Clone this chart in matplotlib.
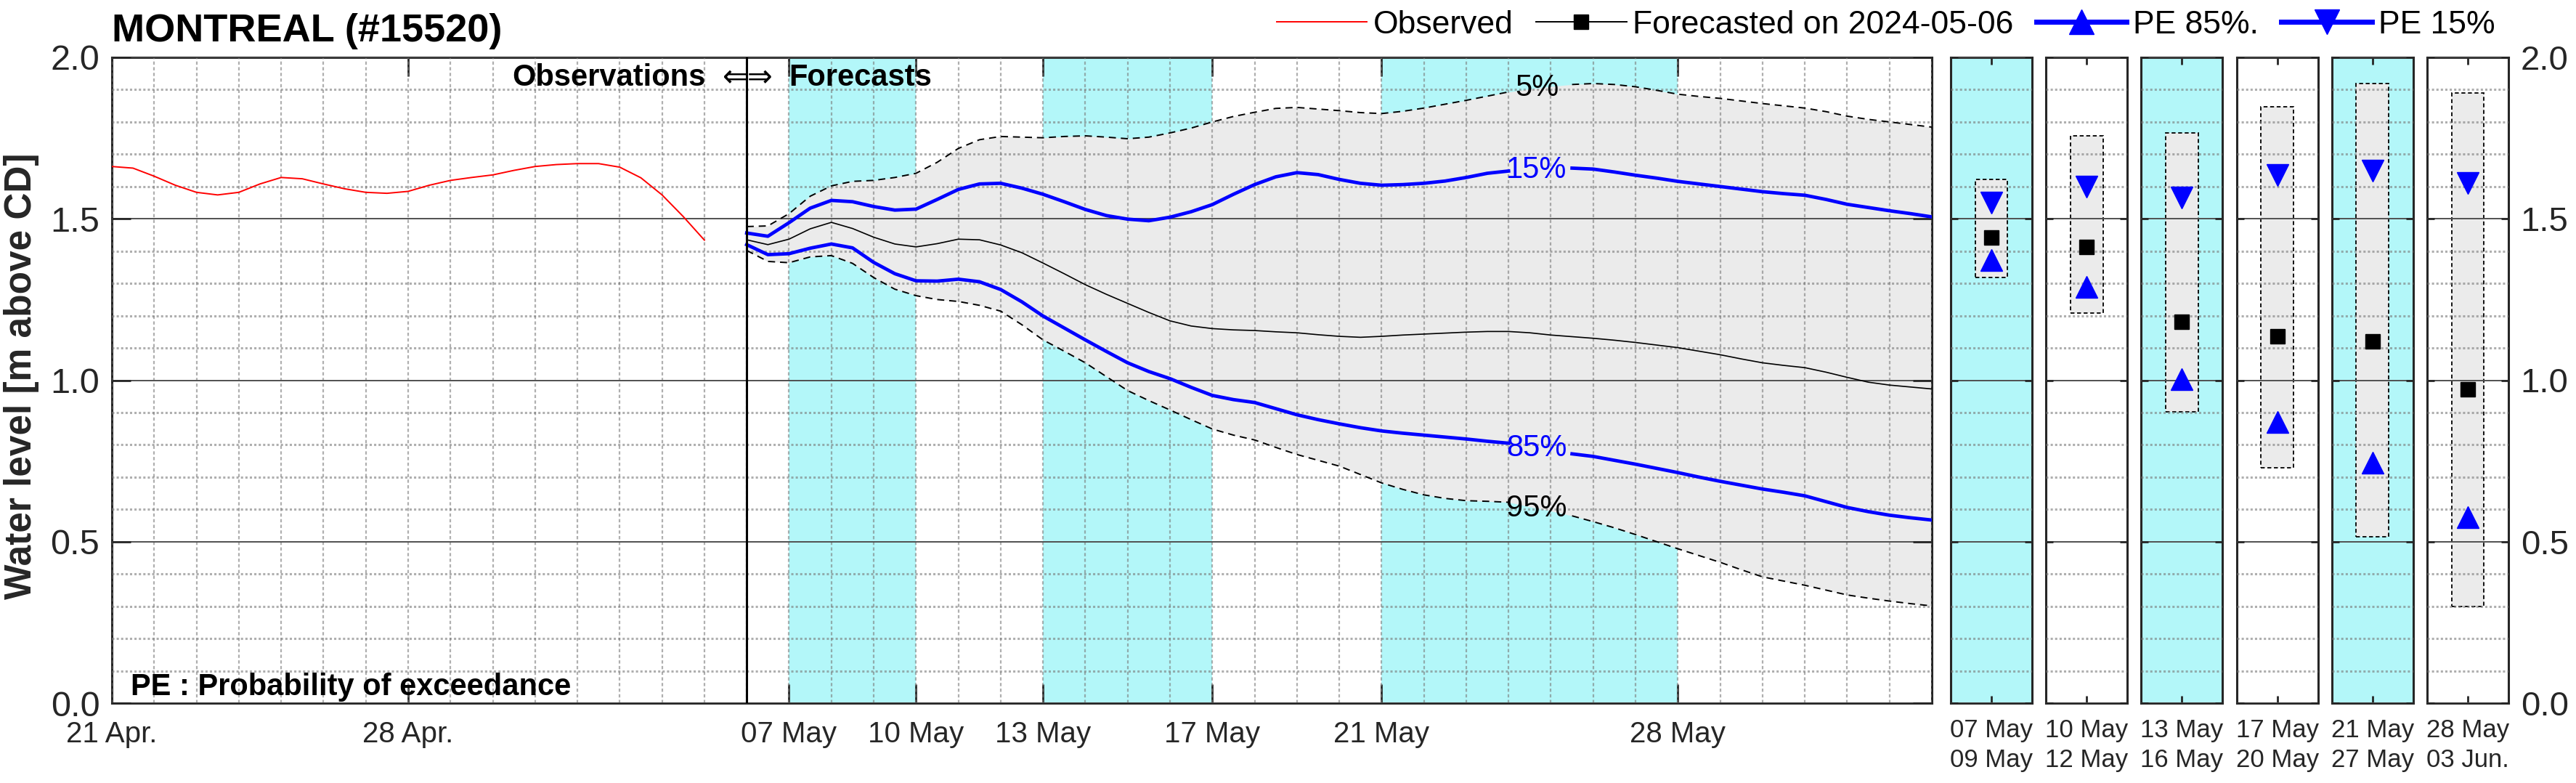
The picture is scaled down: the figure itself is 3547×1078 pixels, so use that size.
import matplotlib.dates as mdates
import matplotlib.pyplot as plt
import numpy as np
import pandas as pd
from matplotlib.lines import Line2D
from matplotlib.ticker import FixedLocator, MultipleLocator

plt.rcParams["font.family"] = ["Liberation Sans", "DejaVu Sans"]

# observed water level, every 12 h from 21 Apr to 05 May
obs_time = pd.date_range("2024-04-21", "2024-05-05", freq="12h")
obs_level = [
    1.662, 1.657, 1.632, 1.604, 1.582, 1.574, 1.582, 1.608, 1.628, 1.624,
    1.608, 1.593, 1.582, 1.579, 1.585, 1.604, 1.619, 1.628, 1.636, 1.650,
    1.662, 1.668, 1.671, 1.671, 1.660, 1.627, 1.574, 1.507, 1.434,
]

# forecast issued 2024-05-06, every 12 h to 03 Jun
fc_time = pd.date_range("2024-05-06", "2024-06-03", freq="12h")
pe5 = [
    1.476, 1.478, 1.516, 1.570, 1.602, 1.616, 1.619, 1.628, 1.641, 1.675,
    1.718, 1.745, 1.755, 1.753, 1.751, 1.755, 1.757, 1.753, 1.748, 1.753,
    1.766, 1.781, 1.800, 1.817, 1.830, 1.842, 1.845, 1.840, 1.835, 1.829,
    1.826, 1.833, 1.843, 1.855, 1.867, 1.880, 1.893, 1.902, 1.910, 1.916,
    1.919, 1.916, 1.909, 1.898, 1.886, 1.879, 1.873, 1.865, 1.857, 1.850,
    1.843, 1.832, 1.818, 1.808, 1.800, 1.792, 1.784,
]
pe15 = [
    1.456, 1.446, 1.488, 1.533, 1.557, 1.553, 1.538, 1.527, 1.530, 1.560,
    1.591, 1.608, 1.610, 1.595, 1.576, 1.553, 1.529, 1.510, 1.499, 1.494,
    1.505, 1.522, 1.544, 1.576, 1.606, 1.630, 1.643, 1.637, 1.622, 1.610,
    1.604, 1.606, 1.610, 1.617, 1.628, 1.641, 1.648, 1.651, 1.654, 1.657,
    1.654, 1.645, 1.635, 1.626, 1.616, 1.608, 1.600, 1.592, 1.584, 1.578,
    1.573, 1.560, 1.545, 1.535, 1.525, 1.516, 1.506,
]
median = [
    1.435, 1.420, 1.437, 1.469, 1.489, 1.470, 1.443, 1.422, 1.413, 1.423,
    1.437, 1.435, 1.419, 1.395, 1.363, 1.330, 1.296, 1.266, 1.238, 1.210,
    1.184, 1.168, 1.160, 1.156, 1.154, 1.150, 1.147, 1.141, 1.136, 1.133,
    1.136, 1.140, 1.143, 1.146, 1.149, 1.151, 1.151, 1.147, 1.140, 1.135,
    1.130, 1.124, 1.117, 1.109, 1.101, 1.090, 1.079, 1.066, 1.054, 1.046,
    1.039, 1.025, 1.009, 0.994, 0.985, 0.979, 0.973,
]
pe85 = [
    1.420, 1.389, 1.392, 1.409, 1.422, 1.410, 1.365, 1.330, 1.308, 1.307,
    1.313, 1.305, 1.281, 1.243, 1.199, 1.162, 1.125, 1.089, 1.054, 1.027,
    1.005, 0.978, 0.953, 0.940, 0.931, 0.912, 0.893, 0.878, 0.865, 0.853,
    0.843, 0.836, 0.830, 0.824, 0.818, 0.811, 0.805, 0.795, 0.782, 0.772,
    0.764, 0.752, 0.740, 0.727, 0.714, 0.700, 0.687, 0.675, 0.663, 0.653,
    0.642, 0.624, 0.606, 0.593, 0.582, 0.574, 0.567,
]
pe95 = [
    1.402, 1.368, 1.364, 1.382, 1.386, 1.362, 1.318, 1.282, 1.262, 1.250,
    1.244, 1.232, 1.214, 1.172, 1.125, 1.090, 1.054, 1.011, 0.968, 0.937,
    0.908, 0.878, 0.849, 0.830, 0.815, 0.792, 0.770, 0.752, 0.734, 0.708,
    0.682, 0.662, 0.645, 0.634, 0.627, 0.625, 0.622, 0.608, 0.595, 0.580,
    0.562, 0.543, 0.522, 0.500, 0.478, 0.457, 0.436, 0.413, 0.391, 0.378,
    0.365, 0.350, 0.335, 0.325, 0.316, 0.308, 0.301,
]

# period summaries (right-hand panels)
panel_labels = ["07 May\n09 May", "10 May\n12 May", "13 May\n16 May",
                "17 May\n20 May", "21 May\n27 May", "28 May\n03 Jun."]
panel_shaded = [True, False, True, False, True, False]
panel_p5 = [1.621, 1.756, 1.765, 1.847, 1.920, 1.889]
panel_p15 = [1.550, 1.599, 1.565, 1.635, 1.650, 1.610]
panel_med = [1.442, 1.413, 1.182, 1.136, 1.120, 0.971]
panel_p85 = [1.372, 1.289, 1.004, 0.871, 0.745, 0.577]
panel_p95 = [1.318, 1.209, 0.902, 0.730, 0.515, 0.299]

band_start = ["2024-05-07", "2024-05-13", "2024-05-21"]
band_end = ["2024-05-10", "2024-05-17", "2024-05-28"]

tick_dates = ["2024-04-21", "2024-04-28", "2024-05-07", "2024-05-10",
              "2024-05-13", "2024-05-17", "2024-05-21", "2024-05-28"]
tick_labels = ["21 Apr.", "28 Apr.", "07 May", "10 May",
               "13 May", "17 May", "21 May", "28 May"]

issue_date = pd.Timestamp("2024-05-06")
label_time = pd.Timestamp("2024-05-24 16:00")

CYAN = "#b3f7f9"
FILL = "#ebebeb"
DARK = "#262626"

W, H = 3547, 1078
fig = plt.figure(figsize=(W / 100, H / 100), dpi=100)


def px_axes(x0, x1, y0, y1):
    return fig.add_axes([x0 / W, 1 - y1 / H, (x1 - x0) / W, (y1 - y0) / H])


def style_grid(a):
    a.set_axisbelow(False)
    a.set_ylim(0, 2)
    a.yaxis.set_major_locator(MultipleLocator(0.5))
    a.yaxis.set_minor_locator(MultipleLocator(0.1))
    a.grid(True, axis="y", which="major", color="#505050", linewidth=1.4)
    a.grid(True, axis="y", which="minor", color="#7a7a7a", alpha=0.6,
           linewidth=2.2, linestyle=(0, (1, 1)))
    a.tick_params(which="minor", length=0)
    for s in a.spines.values():
        s.set_color(DARK)
        s.set_linewidth(2.2)


# ---- main time series axes
ax = px_axes(154, 2660, 79, 968)
style_grid(ax)
ax.set_xlim(pd.Timestamp("2024-04-21"), pd.Timestamp("2024-06-03"))

ax.xaxis.remove_overlapping_locs = False
ax.xaxis.set_major_locator(FixedLocator(mdates.date2num(pd.to_datetime(tick_dates))))
ax.set_xticklabels(tick_labels)
ax.xaxis.set_minor_locator(mdates.DayLocator())
ax.grid(True, axis="x", which="minor", color="#7a7a7a", alpha=0.6,
        linewidth=1.6, linestyle=(0, (2, 1.5)))
ax.tick_params(axis="x", which="major", direction="in", length=19, width=2,
               top=True, bottom=True, labelsize=29, pad=17,
               color=DARK, labelcolor=DARK)
ax.tick_params(axis="y", which="major", direction="in", length=19, width=2,
               left=True, right=True, labelsize=35, pad=12,
               color=DARK, labelcolor=DARK)
ax.yaxis.set_major_formatter(plt.FormatStrFormatter("%.1f"))

for s, e in zip(band_start, band_end):
    ax.axvspan(pd.Timestamp(s), pd.Timestamp(e), color=CYAN, lw=0, zorder=1)

ax.fill_between(fc_time, pe95, pe5, color=FILL, lw=0, zorder=1.5)

fc_num = mdates.date2num(fc_time)
lab_num = mdates.date2num(label_time)
gap = np.abs(fc_num - lab_num) < 0.5


def broken(values):
    return np.where(gap, np.nan, values)


ax.plot(obs_time, obs_level, color="red", lw=1.4, zorder=3)
ax.plot(fc_time, broken(pe5), color="black", lw=1.4, dashes=(5, 3.5), zorder=3)
ax.plot(fc_time, broken(pe95), color="black", lw=1.4, dashes=(5, 3.5), zorder=3)
ax.plot(fc_time, median, color="black", lw=1.2, zorder=3)
ax.plot(fc_time, broken(pe15), color="blue", lw=3.4, zorder=3)
ax.plot(fc_time, broken(pe85), color="blue", lw=3.4, zorder=3)

for vals, txt, col in [(pe5, "5%", "black"), (pe15, "15%", "blue"),
                       (pe85, "85%", "blue"), (pe95, "95%", "black")]:
    ax.text(label_time, np.interp(lab_num, fc_num, vals), txt, color=col,
            ha="center", va="center", fontsize=30, zorder=4)

ax.axvline(issue_date, color="black", lw=2.2, zorder=3)
ax.annotate("Observations", xy=(issue_date, 1.937), xytext=(-41, 0),
            textcoords="offset points", ha="right", va="center",
            fontsize=30, fontweight="bold", zorder=4)
ax.annotate("⇐⇒", xy=(issue_date, 1.937), xytext=(1, 0),
            textcoords="offset points", ha="center", va="center",
            fontsize=30, family="DejaVu Sans", zorder=4)
ax.annotate("Forecasts", xy=(issue_date, 1.937), xytext=(42, 0),
            textcoords="offset points", ha="left", va="center",
            fontsize=30, fontweight="bold", zorder=4)
ax.text(0.0104, 0.024, "PE : Probability of exceedance",
        transform=ax.get_yaxis_transform(), fontsize=30, fontweight="bold",
        va="baseline", zorder=4)

# ---- period panels
for i in range(len(panel_labels)):
    x0 = 2686 + 131.2 * i
    pa = px_axes(x0, x0 + 112, 79, 968)
    if panel_shaded[i]:
        pa.set_facecolor(CYAN)
    style_grid(pa)
    pa.set_xlim(0, 1)
    pa.bar(0.5, panel_p5[i] - panel_p95[i], bottom=panel_p95[i], width=0.4,
           color=FILL, edgecolor="black", linestyle=(0, (3, 2)),
           linewidth=1.3, zorder=1.5)
    pa.plot(0.5, panel_p15[i], "v", color="blue", ms=21, zorder=4)
    pa.plot(0.5, panel_p85[i], "^", color="blue", ms=21, zorder=4)
    pa.plot(0.5, panel_med[i], "s", color="black", ms=15, zorder=4)
    pa.set_xticks([0.5])
    pa.set_xticklabels([panel_labels[i]], linespacing=1.3)
    pa.tick_params(axis="x", direction="in", length=7, width=2, top=True,
                   labelsize=25, pad=15, color=DARK, labelcolor=DARK)
    pa.tick_params(axis="y", which="major", direction="in", length=7, width=2,
                   left=True, right=True, labelleft=False,
                   labelright=(i == len(panel_labels) - 1),
                   labelsize=34, pad=12, color=DARK, labelcolor=DARK)
    pa.yaxis.set_major_formatter(plt.FormatStrFormatter("%.1f"))

# ---- titles and legend
fig.text(154 / W, 1 - 57 / H, "MONTREAL (#15520)", fontsize=39,
         fontweight="bold", va="baseline")
fig.text(30 / W, 0.52, "Water level [m above CD]", fontsize=37,
         fontweight="bold", rotation=90, ha="center", va="center",
         color=DARK)

handles = [
    Line2D([], [], color="red", lw=1.4),
    Line2D([], [], color="black", lw=1.4, marker="s", ms=15),
    Line2D([], [], color="blue", lw=5, marker="^", ms=24),
    Line2D([], [], color="blue", lw=5, marker="v", ms=24),
]
labels = ["Observed", "Forecasted on 2024-05-06", "PE 85%.", "PE 15%"]
fig.legend(handles, labels, loc="upper right", bbox_to_anchor=(3462 / W, 1.012),
           ncol=4, frameon=False, fontsize=32, handlelength=2.8,
           handletextpad=0.2, columnspacing=0.7, borderaxespad=0.2)

fig.savefig("out.png", dpi=100)
